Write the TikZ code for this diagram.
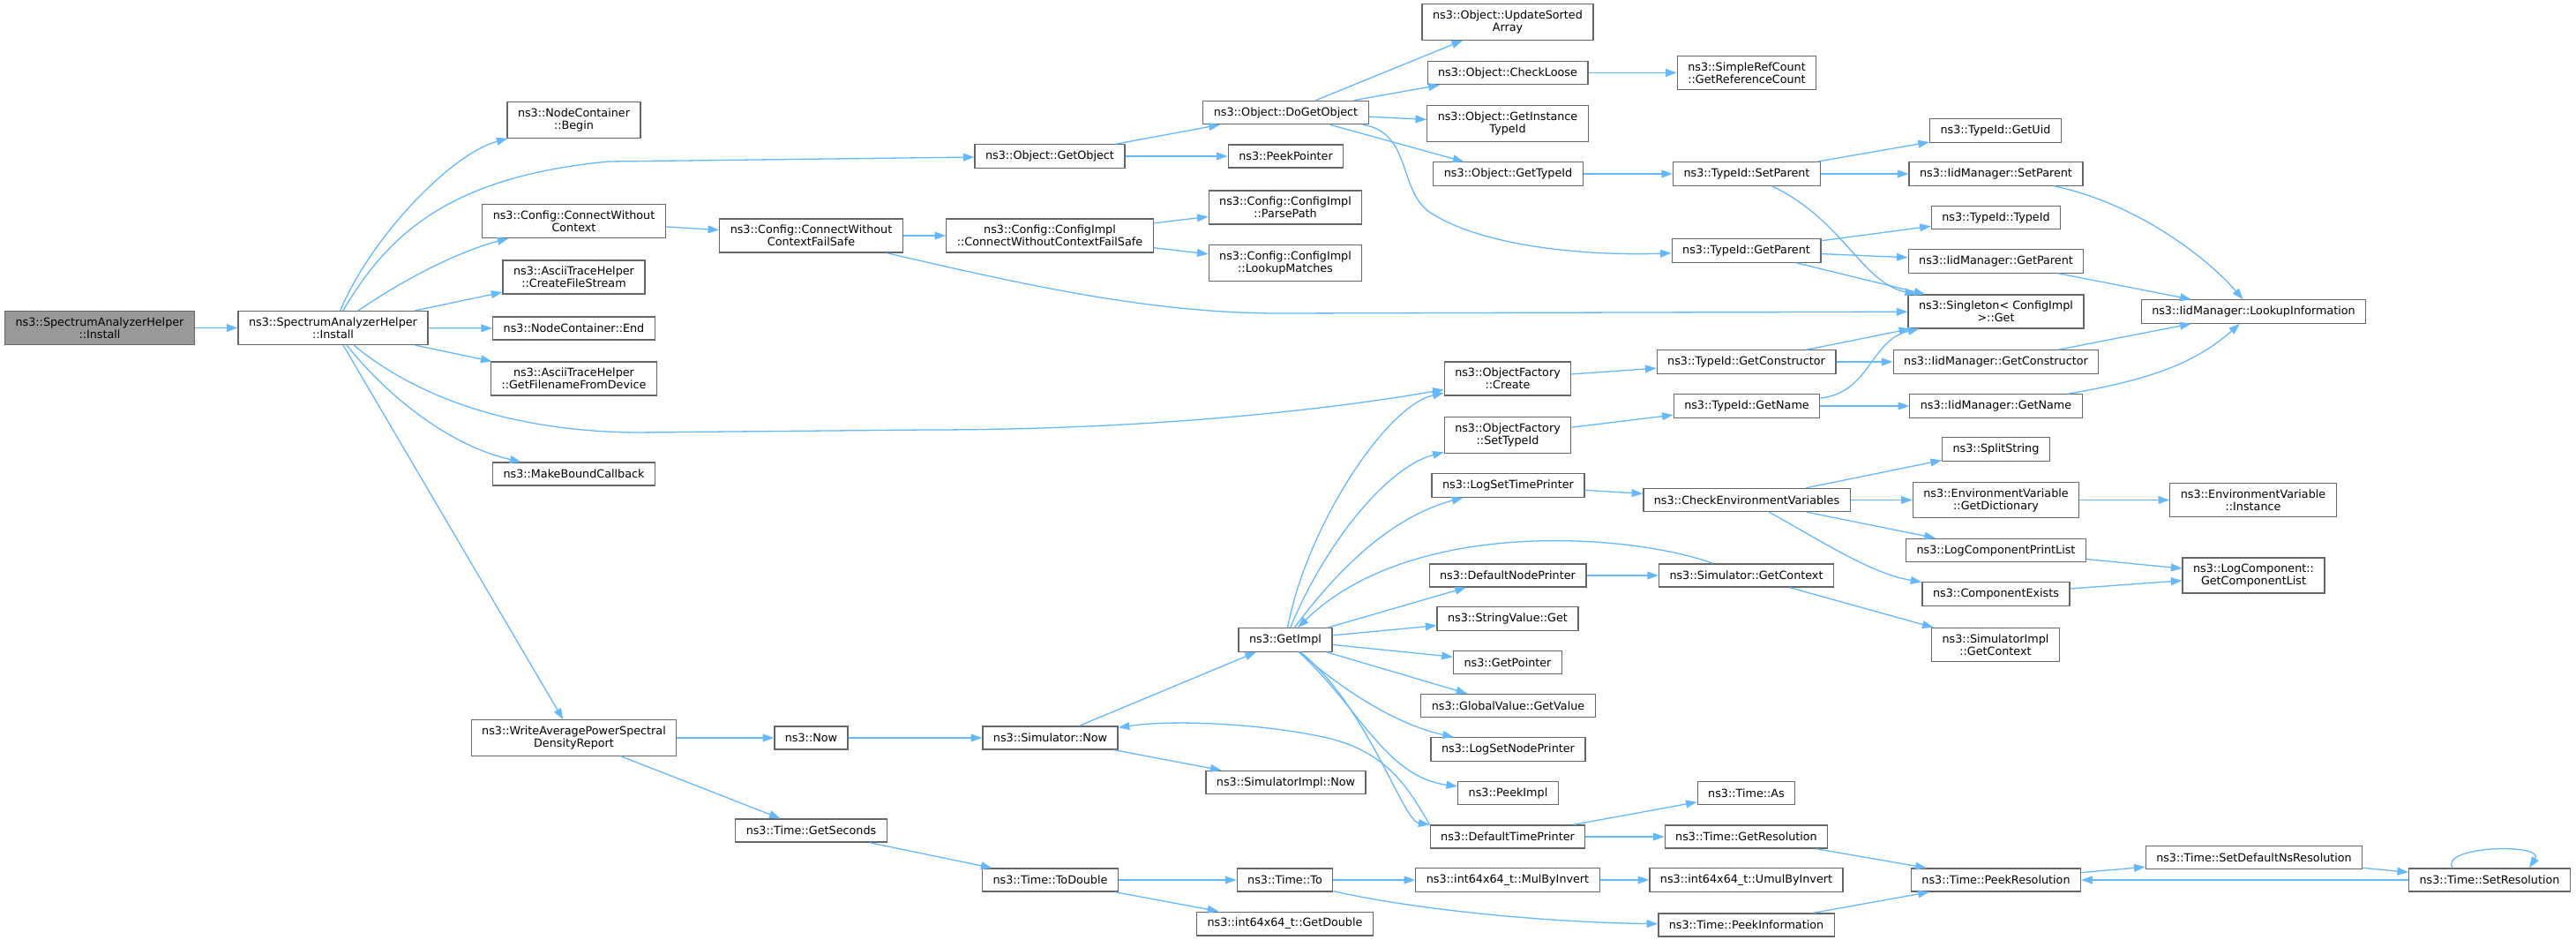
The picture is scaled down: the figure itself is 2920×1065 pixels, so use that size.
\documentclass[tikz,border=0pt]{standalone}
\usepackage{fontspec}
\setmainfont{DejaVu Sans}
\usetikzlibrary{arrows.meta}
\definecolor{edgeblue}{HTML}{63B8FF}
\definecolor{boxgray}{HTML}{666666}
\definecolor{rootgray}{HTML}{999999}
\begin{document}
\begin{tikzpicture}[>={Triangle[length=6.3pt,width=4.4pt]},
    x={(0.5pt,0pt)}, y={(0pt,-0.5pt)},
    fn/.style={draw=boxgray, fill=white, line width=0.65pt, inner xsep=6pt,
      inner ysep=3.5pt, minimum height=13pt, align=center,
      font=\fontsize{6.375}{7}\selectfont},
    root/.style={fn, fill=rootgray},
    call/.style={->, draw=edgeblue, line width=0.65pt}]

    \useasboundingbox (0,0) rectangle (2920,1065);

    \node[root] (root) at (113,371.5) {ns3::SpectrumAnalyzerHelper\\::Install};
    \node[fn] (inst) at (377.5,371.5) {ns3::SpectrumAnalyzerHelper\\::Install};

    \node[fn] (ncBegin) at (650.5,136) {ns3::NodeContainer\\::Begin};
    \node[fn] (cwc) at (650.5,250.5) {ns3::Config::ConnectWithout\\Context};
    \node[fn] (afs) at (650.5,314) {ns3::AsciiTraceHelper\\::CreateFileStream};
    \node[fn] (ncEnd) at (650.5,372) {ns3::NodeContainer::End};
    \node[fn] (afd) at (650.5,429) {ns3::AsciiTraceHelper\\::GetFilenameFromDevice};
    \node[fn] (mbc) at (650.5,537) {ns3::MakeBoundCallback};
    \node[fn] (wapsd) at (650.5,836) {ns3::WriteAveragePowerSpectral\\DensityReport};

    \node[fn] (cfs) at (919.5,267) {ns3::Config::ConnectWithout\\ContextFailSafe};
    \node[fn] (now) at (919.5,836) {ns3::Now};
    \node[fn] (getsec) at (919.5,941) {ns3::Time::GetSeconds};

    \node[fn] (getobj) at (1190,177) {ns3::Object::GetObject};
    \node[fn] (cifs) at (1190,267) {ns3::Config::ConfigImpl\\::ConnectWithoutContextFailSafe};
    \node[fn] (simnow) at (1190.5,836) {ns3::Simulator::Now};
    \node[fn] (todouble) at (1190.5,997) {ns3::Time::ToDouble};

    \node[fn] (dogetobj) at (1457.5,127.5) {ns3::Object::DoGetObject};
    \node[fn] (peekptr) at (1457.5,177) {ns3::PeekPointer};
    \node[fn] (parsepath) at (1457,235) {ns3::Config::ConfigImpl\\::ParsePath};
    \node[fn] (lookupm) at (1457,298) {ns3::Config::ConfigImpl\\::LookupMatches};
    \node[fn] (getimpl) at (1457,725) {ns3::GetImpl};
    \node[fn] (simimplnow) at (1457.5,886.5) {ns3::SimulatorImpl::Now};
    \node[fn] (timeto) at (1456.5,997) {ns3::Time::To};
    \node[fn] (getdouble) at (1456.5,1046.5) {ns3::int64x64\_t::GetDouble};

    \node[fn] (upd) at (1709,25) {ns3::Object::UpdateSorted\\Array};
    \node[fn] (checkloose) at (1709,82.5) {ns3::Object::CheckLoose};
    \node[fn] (getinst) at (1709,140) {ns3::Object::GetInstance\\TypeId};
    \node[fn] (objgettid) at (1709.5,197) {ns3::Object::GetTypeId};
    \node[fn] (ofcreate) at (1709,429) {ns3::ObjectFactory\\::Create};
    \node[fn] (ofsettid) at (1709,493) {ns3::ObjectFactory\\::SetTypeId};
    \node[fn] (logsettp) at (1709.5,550) {ns3::LogSetTimePrinter};
    \node[fn] (defnp) at (1709,652) {ns3::DefaultNodePrinter};
    \node[fn] (strget) at (1709,701) {ns3::StringValue::Get};
    \node[fn] (getptr) at (1709,750.5) {ns3::GetPointer};
    \node[fn] (gvget) at (1709.5,799.5) {ns3::GlobalValue::GetValue};
    \node[fn] (logsetnp) at (1709.5,849) {ns3::LogSetNodePrinter};
    \node[fn] (peekimpl) at (1709.5,898.5) {ns3::PeekImpl};
    \node[fn] (deftp) at (1709,948) {ns3::DefaultTimePrinter};
    \node[fn] (mulinv) at (1709,997) {ns3::int64x64\_t::MulByInvert};

    \node[fn] (refcount) at (1980,82.5) {ns3::SimpleRefCount\\::GetReferenceCount};
    \node[fn] (tidsetp) at (1980,197) {ns3::TypeId::SetParent};
    \node[fn] (tidgetp) at (1979.5,284) {ns3::TypeId::GetParent};
    \node[fn] (tidgetc) at (1979.5,410) {ns3::TypeId::GetConstructor};
    \node[fn] (tidgetn) at (1980,460) {ns3::TypeId::GetName};
    \node[fn] (checkenv) at (1980,566.5) {ns3::CheckEnvironmentVariables};
    \node[fn] (simgetc) at (1979.5,652) {ns3::Simulator::GetContext};
    \node[fn] (timeas) at (1979.5,898.5) {ns3::Time::As};
    \node[fn] (getres) at (1979.5,948) {ns3::Time::GetResolution};
    \node[fn] (umulinv) at (1979.5,997) {ns3::int64x64\_t::UmulByInvert};
    \node[fn] (peekinfo) at (1979.5,1048) {ns3::Time::PeekInformation};

    \node[fn] (tidgetuid) at (2262,148) {ns3::TypeId::GetUid};
    \node[fn] (iidsetp) at (2262.5,197) {ns3::IidManager::SetParent};
    \node[fn] (tidtid) at (2262.5,246.5) {ns3::TypeId::TypeId};
    \node[fn] (iidgetp) at (2262.5,296) {ns3::IidManager::GetParent};
    \node[fn] (singleton) at (2262.5,353) {ns3::Singleton< ConfigImpl\\ >::Get};
    \node[fn] (iidgetc) at (2262.5,410) {ns3::IidManager::GetConstructor};
    \node[fn] (iidgetn) at (2262.5,460) {ns3::IidManager::GetName};
    \node[fn] (split) at (2262.5,509) {ns3::SplitString};
    \node[fn] (envdict) at (2262.5,566.5) {ns3::EnvironmentVariable\\::GetDictionary};
    \node[fn] (lcpl) at (2262.5,623.5) {ns3::LogComponentPrintList};
    \node[fn] (compex) at (2262.5,673) {ns3::ComponentExists};
    \node[fn] (simimplgetc) at (2262,730.5) {ns3::SimulatorImpl\\::GetContext};
    \node[fn] (peekres) at (2262.5,997) {ns3::Time::PeekResolution};

    \node[fn] (lookupinfo) at (2554.5,353) {ns3::IidManager::LookupInformation};
    \node[fn] (envinst) at (2554,566.5) {ns3::EnvironmentVariable\\::Instance};
    \node[fn] (getcl) at (2554.5,652) {ns3::LogComponent::\\GetComponentList};
    \node[fn] (setdefns) at (2555,971.5) {ns3::Time::SetDefaultNsResolution};
    \node[fn] (setres) at (2822,997) {ns3::Time::SetResolution};

    \draw[call] (root) -- (inst);
    \draw[call] (inst) .. controls (420,270) and (510,175) .. (ncBegin);
    \draw[call] (inst) .. controls (440,265) and (510,200) .. (690,183) -- (getobj);
    \draw[call] (inst) .. controls (460,315) and (520,285) .. (cwc);
    \draw[call] (inst) -- (afs);
    \draw[call] (inst) -- (ncEnd);
    \draw[call] (inst) -- (afd);
    \draw[call] (inst) .. controls (460,440) and (560,488) .. (720,490) -- (1050,487)
      .. controls (1300,487) and (1500,465) .. (ofcreate);
    \draw[call] (inst) .. controls (440,450) and (510,505) .. (mbc);
    \draw[call] (inst) -- (wapsd);

    \draw[call] (cwc) -- (cfs);
    \draw[call] (cfs) -- (cifs);
    \draw[call] (cfs) .. controls (1150,320) and (1300,355) .. (1450,355) -- (singleton);
    \draw[call] (cifs) -- (parsepath);
    \draw[call] (cifs) -- (lookupm);

    \draw[call] (getobj) -- (dogetobj);
    \draw[call] (getobj) -- (peekptr);
    \draw[call] (dogetobj) -- (upd);
    \draw[call] (dogetobj) -- (checkloose);
    \draw[call] (dogetobj) -- (getinst);
    \draw[call] (dogetobj) -- (objgettid);
    \draw[call] (dogetobj) .. controls (1600,150) and (1585,215) .. (1620,240)
      .. controls (1680,280) and (1800,290) .. (tidgetp);
    \draw[call] (checkloose) -- (refcount);
    \draw[call] (objgettid) -- (tidsetp);

    \draw[call] (tidsetp) -- (tidgetuid);
    \draw[call] (tidsetp) -- (iidsetp);
    \draw[call] (tidsetp) .. controls (2090,250) and (2110,320) .. (singleton);
    \draw[call] (tidgetp) -- (tidtid);
    \draw[call] (tidgetp) -- (iidgetp);
    \draw[call] (tidgetp) -- (singleton);
    \draw[call] (iidsetp) .. controls (2420,230) and (2500,290) .. (lookupinfo);
    \draw[call] (iidgetp) -- (lookupinfo);
    \draw[call] (iidgetc) -- (lookupinfo);
    \draw[call] (iidgetn) .. controls (2440,430) and (2490,410) .. (lookupinfo);

    \draw[call] (ofcreate) -- (tidgetc);
    \draw[call] (ofsettid) -- (tidgetn);
    \draw[call] (tidgetc) -- (singleton);
    \draw[call] (tidgetc) -- (iidgetc);
    \draw[call] (tidgetn) .. controls (2120,445) and (2120,385) .. (singleton);
    \draw[call] (tidgetn) -- (iidgetn);

    \draw[call] (logsettp) -- (checkenv);
    \draw[call] (checkenv) -- (split);
    \draw[call] (checkenv) -- (envdict);
    \draw[call] (checkenv) -- (lcpl);
    \draw[call] (checkenv) .. controls (2060,610) and (2120,650) .. (compex);
    \draw[call] (envdict) -- (envinst);
    \draw[call] (lcpl) -- (getcl);
    \draw[call] (compex) -- (getcl);
    \draw[call] (defnp) -- (simgetc);
    \draw[call] (simgetc) .. controls (1850,605) and (1600,585) .. (getimpl);
    \draw[call] (simgetc) -- (simimplgetc);

    \draw[call] (getimpl) .. controls (1480,600) and (1570,460) .. (ofcreate);
    \draw[call] (getimpl) .. controls (1500,620) and (1570,530) .. (ofsettid);
    \draw[call] (getimpl) .. controls (1520,640) and (1580,585) .. (logsettp);
    \draw[call] (getimpl) -- (defnp);
    \draw[call] (getimpl) -- (strget);
    \draw[call] (getimpl) -- (getptr);
    \draw[call] (getimpl) -- (gvget);
    \draw[call] (getimpl) .. controls (1520,780) and (1580,820) .. (logsetnp);
    \draw[call] (getimpl) .. controls (1540,800) and (1570,880) .. (peekimpl);
    \draw[call] (getimpl) .. controls (1550,800) and (1590,930) .. (deftp.north west);
    \draw[call] (simnow) -- (getimpl);
    \draw[call] (simnow) -- (simimplnow);
    \draw[call] (deftp.north west) .. controls (1595,890) and (1570,850) .. (1500,835)
      .. controls (1430,820) and (1330,815) .. (simnow);
    \draw[call] (deftp) -- (timeas);
    \draw[call] (deftp) -- (getres);

    \draw[call] (wapsd) -- (now);
    \draw[call] (wapsd) -- (getsec);
    \draw[call] (now) -- (simnow);
    \draw[call] (getsec) -- (todouble);
    \draw[call] (todouble) -- (timeto);
    \draw[call] (todouble) -- (getdouble);
    \draw[call] (timeto) -- (mulinv);
    \draw[call] (timeto) .. controls (1600,1030) and (1750,1045) .. (peekinfo);
    \draw[call] (mulinv) -- (umulinv);
    \draw[call] (getres) -- (peekres);
    \draw[call] (peekinfo) -- (peekres);
    \draw[call] (peekres) -- (setdefns);
    \draw[call] (setdefns) -- (setres);
    \draw[call] (setres) -- (peekres);
    \draw[call] ([xshift=-21pt]setres.north) .. controls (2765,958) and (2885,955)
      .. ([xshift=22.5pt]setres.north);
\end{tikzpicture}
\end{document}
